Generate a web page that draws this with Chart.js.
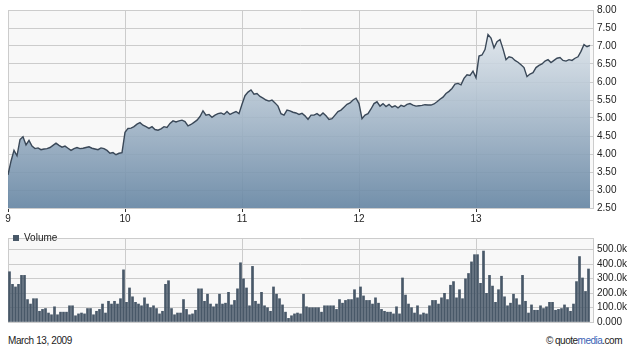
<!DOCTYPE html>
<html lang="en">
<head>
<meta charset="UTF-8">
<title>Price and volume</title>
<script src="https://cdn.jsdelivr.net/npm/chart.js@4.4.0/dist/chart.umd.min.js"></script>
<style>
  body { margin: 0; background: #fff; }
  #wrap { position: relative; width: 630px; height: 349px; font-family: 'Liberation Sans', Arial, sans-serif; }
  #priceChart { position: absolute; left: 0; top: 0; }
  #volChart { position: absolute; left: 0; top: 228px; }
  .foot { position: absolute; top: 335px; font-size: 10px; line-height: 11px; color: #222; white-space: nowrap; }
</style>
</head>
<body>
<div id="wrap">
  <canvas id="priceChart" width="630" height="228"></canvas>
  <canvas id="volChart" width="630" height="104"></canvas>
  <div class="foot" style="left:8px; letter-spacing:-0.4px">March 13, 2009</div>
  <div class="foot" style="right:8px; letter-spacing:-0.5px">© quote<span style="color:#3a5fb5">media</span>.com</div>
</div>

<script>
// trading days shown on the x axis
const days = [9, 10, 11, 12, 13]

// price, 10 minute steps, one list per day
const price9  = [3.42, 3.80, 4.10, 3.95, 4.40, 4.48, 4.25, 4.38, 4.22, 4.15,
                 4.17, 4.12, 4.14, 4.15, 4.18, 4.24, 4.30, 4.24, 4.19, 4.22,
                 4.16, 4.10, 4.15, 4.18, 4.15, 4.16, 4.18, 4.20, 4.16, 4.14,
                 4.12, 4.17, 4.15, 4.10, 4.02, 4.04, 3.98, 4.02, 4.04]
const price10 = [4.60, 4.71, 4.72, 4.76, 4.83, 4.87, 4.80, 4.76, 4.71, 4.76,
                 4.68, 4.66, 4.70, 4.76, 4.74, 4.85, 4.92, 4.89, 4.92, 4.94,
                 4.90, 4.78, 4.82, 4.88, 4.94, 5.04, 5.20, 5.08, 5.10, 5.02,
                 5.08, 5.12, 5.14, 5.10, 5.18, 5.10, 5.14, 5.18, 5.12]
const price11 = [5.38, 5.62, 5.72, 5.78, 5.66, 5.68, 5.60, 5.55, 5.50, 5.47,
                 5.50, 5.42, 5.33, 5.12, 5.08, 5.22, 5.20, 5.16, 5.14, 5.10,
                 5.13, 5.06, 4.96, 5.08, 5.08, 5.12, 5.06, 5.14, 5.06, 4.96,
                 4.98, 5.08, 5.18, 5.22, 5.30, 5.38, 5.42, 5.50, 5.55]
const price12 = [5.40, 4.98, 5.08, 5.12, 5.25, 5.40, 5.45, 5.33, 5.40, 5.32,
                 5.38, 5.30, 5.34, 5.28, 5.35, 5.32, 5.38, 5.40, 5.36, 5.33,
                 5.34, 5.35, 5.37, 5.36, 5.36, 5.39, 5.45, 5.52, 5.58, 5.68,
                 5.74, 5.82, 5.94, 5.96, 5.92, 6.10, 6.20, 6.18, 6.30]
const price13 = [6.12, 6.72, 6.75, 6.90, 7.32, 7.22, 6.95, 7.12, 7.18, 6.92,
                 6.62, 6.70, 6.68, 6.60, 6.55, 6.48, 6.40, 6.15, 6.22, 6.26,
                 6.40, 6.46, 6.50, 6.58, 6.62, 6.54, 6.60, 6.66, 6.68, 6.60,
                 6.58, 6.62, 6.60, 6.66, 6.70, 6.85, 7.04, 6.98, 7.02]

// volume in thousands, 10 minute bars
const vol9  = [347, 260, 242, 260, 322, 322, 155, 124, 161, 161,
               74, 87, 93, 62, 50, 105, 50, 68, 68, 68,
               112, 112, 43, 56, 62, 56, 93, 93, 50, 74,
               87, 124, 62, 143, 124, 143, 124, 161, 360]
const vol10 = [136, 235, 174, 136, 124, 112, 167, 124, 99, 112,
               93, 56, 74, 260, 285, 93, 50, 62, 62, 155,
               87, 50, 56, 81, 229, 229, 143, 192, 124, 105,
               124, 192, 124, 130, 205, 118, 149, 229, 409]
const vol11 = [298, 235, 112, 384, 143, 124, 205, 112, 99, 74,
               242, 192, 161, 118, 68, 25, 43, 56, 62, 56,
               192, 105, 99, 99, 99, 99, 68, 112, 112, 112,
               112, 87, 155, 130, 149, 155, 155, 223, 167]
const vol12 = [242, 180, 149, 149, 124, 167, 130, 87, 74, 68,
               68, 56, 105, 56, 304, 186, 124, 99, 62, 112,
               50, 62, 56, 112, 149, 149, 124, 167, 198, 155,
               254, 279, 167, 223, 161, 298, 335, 415, 465]
const vol13 = [465, 267, 490, 198, 322, 248, 136, 223, 316, 174,
               112, 130, 192, 161, 118, 322, 143, 62, 118, 81,
               81, 112, 93, 105, 136, 136, 81, 87, 93, 118,
               99, 74, 124, 279, 452, 304, 211, 366]

function toPoints(lists, shift) {
	let pts = []
	lists.forEach((vals, d) => {
		vals.forEach((v, i) => pts.push({ x: days[d] + (i + shift) / 39, y: v }))
	})
	return pts
}

const pricePoints = toPoints([price9, price10, price11, price12, price13], 0)
const volPoints = toPoints([vol9, vol10, vol11, vol12, vol13], 0.5)

Chart.defaults.font.family = "'Liberation Sans', Arial, sans-serif"
Chart.defaults.font.size = 10
Chart.defaults.color = '#222'

const gridCol = '#cccccc'

// light grey plot background
const plotBg = {
	id: 'plotBg',
	beforeDraw(chart) {
		const a = chart.chartArea
		chart.ctx.save()
		chart.ctx.fillStyle = '#f8f8f8'
		chart.ctx.fillRect(a.left, a.top, a.right - a.left, a.bottom - a.top)
		chart.ctx.restore()
	}
}

const dayTicks = (s) => { s.ticks = days.map(v => ({ value: v })) }

new Chart(document.getElementById('priceChart'), {
	type: 'line',
	data: {
		datasets: [{
			data: pricePoints,
			borderColor: '#3a4858',
			borderWidth: 1.4,
			pointRadius: 0,
			tension: 0,
			fill: 'start',
			backgroundColor: (c) => {
				const a = c.chart.chartArea
				if (!a) return '#a4b7c8'
				const g = c.chart.ctx.createLinearGradient(0, a.top, 0, a.bottom)
				g.addColorStop(0, 'rgba(238,242,245,0.88)')
				g.addColorStop(1, 'rgba(100,132,162,0.9)')
				return g
			}
		}]
	},
	options: {
		responsive: false,
		animation: false,
		layout: { padding: { left: 8, top: 8, right: 0, bottom: 0 } },
		plugins: { legend: { display: false }, tooltip: { enabled: false } },
		scales: {
			x: {
				type: 'linear', min: 9, max: 14,
				afterBuildTicks: dayTicks,
				afterFit: (s) => { s.height = 20 },
				grid: { color: gridCol, tickLength: 4, tickColor: '#333' },
				border: { color: gridCol },
				ticks: { padding: 1, maxRotation: 0, autoSkip: false }
			},
			y: {
				position: 'right', min: 2.5, max: 8,
				afterFit: (s) => { s.width = 37 },
				ticks: { stepSize: 0.5, padding: 4, autoSkip: false, callback: (v) => v.toFixed(2) },
				grid: { color: gridCol, drawTicks: false },
				border: { color: gridCol }
			}
		}
	},
	plugins: [plotBg]
})

new Chart(document.getElementById('volChart'), {
	type: 'bar',
	data: {
		datasets: [{
			label: 'Volume',
			data: volPoints,
			backgroundColor: '#485868',
			borderWidth: 0,
			barThickness: 2
		}]
	},
	options: {
		responsive: false,
		animation: false,
		layout: { padding: { left: 8, top: 7, right: 0, bottom: 3 } },
		plugins: {
			legend: {
				position: 'chartArea', align: 'start',
				labels: { boxWidth: 6, boxHeight: 6, padding: 5 }
			},
			tooltip: { enabled: false }
		},
		scales: {
			x: {
				type: 'linear', min: 9, max: 14, offset: false,
				afterBuildTicks: dayTicks,
				afterFit: (s) => { s.height = 0 },
				ticks: { display: false },
				grid: { color: gridCol, drawTicks: false, offset: false },
				border: { color: gridCol }
			},
			y: {
				position: 'right', min: 0, max: 580,
				afterFit: (s) => { s.width = 37 },
				ticks: {
					stepSize: 100, padding: 4, autoSkip: false,
					callback: (v) => v % 100 ? '' : (v === 0 ? '0.000' : v.toFixed(1) + 'k')
				},
				grid: { color: gridCol, drawTicks: false },
				border: { color: gridCol }
			}
		}
	},
	plugins: [plotBg]
})
</script>
</body>
</html>
